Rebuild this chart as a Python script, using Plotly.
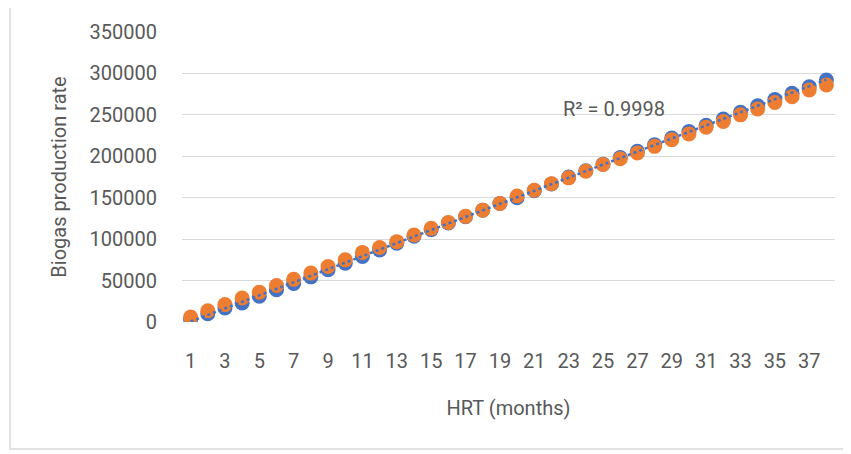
import numpy as np
import plotly.graph_objects as go

hrt = list(range(1, 39))
blue_vals = [3000, 10000, 17000, 23000, 31000, 39000, 46500, 54500, 63000, 71000,
             79000, 87000, 95000, 103500, 111500, 119500, 127000, 135000, 143000, 150000,
             158500, 166500, 175000, 182500, 190500, 198500, 206000, 214000, 222000, 230000,
             237500, 245000, 253000, 261000, 268500, 276000, 284000, 292000]
orange_vals = [6000, 13500, 21000, 29000, 36000, 44000, 51500, 59000, 67000, 75000,
               84000, 90000, 97000, 105000, 113000, 120000, 127500, 135000, 143000, 152000,
               159000, 167000, 174000, 182000, 190000, 197000, 204000, 212000, 220000, 227000,
               235000, 242000, 250000, 257000, 265000, 272000, 280000, 286000]
x_ticks = list(range(1, 38, 2))
y_ticks = [0, 50000, 100000, 150000, 200000, 250000, 300000, 350000]

BLUE = "#4472C4"
ORANGE = "#ED7D31"
TXT = "#595959"
FONT = "Roboto"
FS = 20

# linear trendline of blue series
coef = np.polyfit(hrt, blue_vals, 1)
trend = np.polyval(coef, hrt)

fig = go.Figure()
fig.add_trace(go.Scatter(x=hrt, y=blue_vals, mode="markers",
                         marker=dict(color=BLUE, size=15), showlegend=False))
fig.add_trace(go.Scatter(x=hrt, y=orange_vals, mode="markers",
                         marker=dict(color=ORANGE, size=15), showlegend=False))
fig.add_trace(go.Scatter(x=hrt, y=trend, mode="lines",
                         line=dict(color=BLUE, width=2.5, dash="dot"), showlegend=False))

PL, PR, PT, PB = 182, 835, 30, 322  # target plot area in window pixels
PW, PH = PR - PL, PB - PT

fig.add_annotation(x=(614 - PL) / PW, y=(PB - 93) / PH, xref="paper", yref="paper",
                   text="R² = 0.9998", showarrow=False,
                   font=dict(family=FONT, size=FS, color=TXT))

fig.add_shape(type="rect", xref="paper", yref="paper",
              x0=(10 - PL) / PW, x1=(848 - PL) / PW,
              y0=(PB - 450) / PH, y1=(PB - 4) / PH,
              line=dict(color="#D9D9D9", width=1.5), fillcolor="rgba(0,0,0,0)", layer="below")

# page body has an 8px offset
OFF = 8
fig.update_layout(
    width=851, height=454,
    margin=dict(l=PL - OFF, r=851 - (PL - OFF) - PW, t=PT - OFF, b=454 - (PT - OFF) - PH),
    plot_bgcolor="white", paper_bgcolor="white",
    font=dict(family=FONT, size=FS, color=TXT),
    xaxis=dict(range=[0.5, 38.5], tickmode="array", tickvals=x_ticks,
               ticktext=[str(v) for v in x_ticks], showgrid=False, zeroline=False,
               showline=False, ticks="", ticklabelstandoff=25,
               title=dict(text="HRT (months)", standoff=28,
                          font=dict(family=FONT, size=FS, color=TXT))),
    yaxis=dict(range=[0, 350000], tickmode="array", tickvals=y_ticks,
               ticktext=[str(v) for v in y_ticks], showgrid=True, gridcolor="#D9D9D9",
               gridwidth=1, zeroline=False, showline=False, ticks="",
               ticklabelstandoff=24,
               title=dict(text="Biogas production rate", standoff=17,
                          font=dict(family=FONT, size=FS, color=TXT))),
)

fig.write_html("out.html")
